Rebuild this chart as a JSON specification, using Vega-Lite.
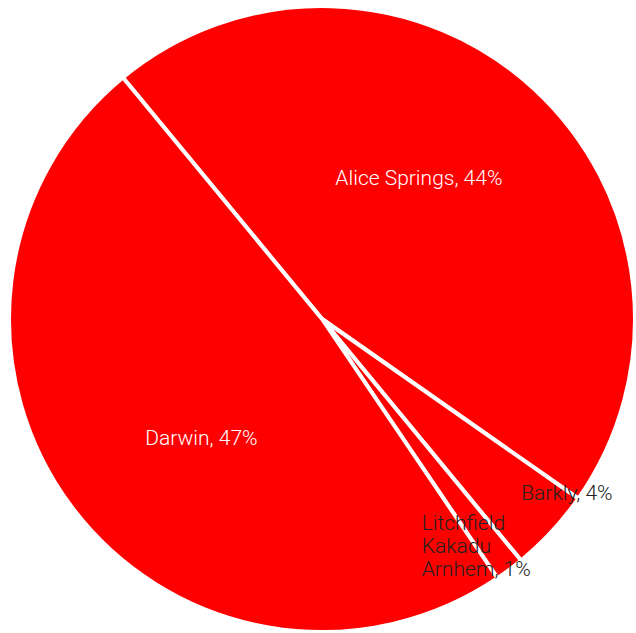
{
  "$schema": "https://vega.github.io/schema/vega-lite/v6.json",
  "autosize": "none",
  "width": 628,
  "height": 628,
  "padding": {"left": 8, "top": 5, "right": 0, "bottom": 0},
  "background": "#ffffff",
  "config": {"view": {"stroke": null}},
  "data": {
    "values": [
      {"region": "Alice Springs", "value": 45.7, "label": "Alice Springs, 44%"},
      {"region": "Barkly", "value": 4.3, "label": "Barkly, 4%"},
      {"region": "Litchfield Kakadu Arnhem", "value": 1.5, "label": "Litchfield\nKakadu\nArnhem, 1%"},
      {"region": "Darwin", "value": 48.5, "label": "Darwin, 47%"}
    ]
  },
  "encoding": {
    "theta": {"field": "value", "type": "quantitative", "stack": true, "scale": {"range": [2.5464, 8.8296]}},
    "order": {"field": "value", "type": "quantitative", "sort": "descending"}
  },
  "layer": [
    {
      "mark": {"type": "arc", "fill": "#ff0000", "stroke": "#ffffff", "strokeWidth": 4, "outerRadius": 313}
    },
    {
      "mark": {"type": "text", "radius": 170, "thetaOffset": -0.14, "align": "center", "baseline": "middle", "font": "Roboto", "fontWeight": 300, "fontSize": 21, "fill": "#ffffff"},
      "encoding": {
        "text": {"condition": {"test": "datum.region === 'Alice Springs' || datum.region === 'Darwin'", "field": "label"}, "value": ""}
      }
    },
    {
      "mark": {"type": "text", "radius": 265, "thetaOffset": -0.026, "align": "left", "baseline": "middle", "font": "Roboto", "fontWeight": 300, "fontSize": 21, "fill": "#222222"},
      "encoding": {
        "text": {"condition": {"test": "datum.region === 'Barkly'", "field": "label"}, "value": ""}
      }
    },
    {
      "mark": {"type": "text", "radius": 228, "thetaOffset": 0.19, "align": "left", "baseline": "middle", "lineBreak": "\n", "lineHeight": 23, "font": "Roboto", "fontWeight": 300, "fontSize": 21, "fill": "#222222"},
      "encoding": {
        "text": {"condition": {"test": "datum.region === 'Litchfield Kakadu Arnhem'", "field": "label"}, "value": ""}
      }
    }
  ]
}
